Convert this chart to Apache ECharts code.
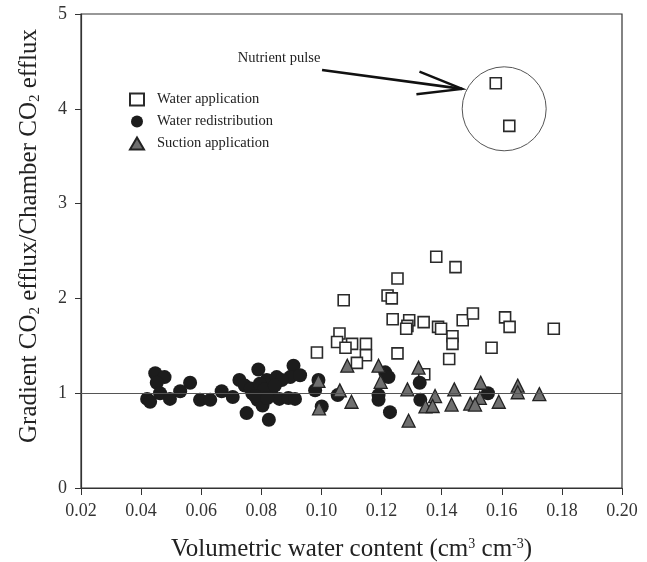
<!DOCTYPE html>
<html>
<head>
<meta charset="utf-8">
<script src="https://cdn.jsdelivr.net/npm/echarts@6/dist/echarts.min.js"></script>
<style>
  html, body { margin: 0; padding: 0; background: #fff; }
  #chart { width: 647px; height: 562px; }
</style>
</head>
<body>
<div id="chart"></div>
<script>
// x: volumetric water content, y: gradient / chamber efflux ratio
const waterApplication = [
  [0.1382, 2.44], [0.1446, 2.33], [0.1253, 2.21], [0.1074, 1.98], [0.1220, 2.03],
  [0.1234, 2.00], [0.1237, 1.78], [0.1292, 1.77], [0.1286, 1.71], [0.1282, 1.68],
  [0.1340, 1.75], [0.1388, 1.70], [0.1398, 1.68], [0.1470, 1.77], [0.1504, 1.84],
  [0.1611, 1.80], [0.1626, 1.70], [0.1773, 1.68], [0.1060, 1.63], [0.1052, 1.54],
  [0.1102, 1.52], [0.1080, 1.48], [0.1148, 1.52], [0.1148, 1.40], [0.0985, 1.43],
  [0.1118, 1.32], [0.1253, 1.42], [0.1436, 1.60], [0.1436, 1.52], [0.1425, 1.36],
  [0.1566, 1.48], [0.1342, 1.20], [0.1580, 4.27], [0.1625, 3.82]
];
const waterRedistribution = [
  [0.0447, 1.21], [0.0478, 1.17], [0.0452, 1.11], [0.0420, 0.94], [0.0430, 0.91],
  [0.0463, 1.00], [0.0496, 0.94], [0.0530, 1.02], [0.0563, 1.11], [0.0596, 0.93],
  [0.0630, 0.93], [0.0668, 1.02], [0.0705, 0.96], [0.0727, 1.14], [0.0745, 1.08],
  [0.0790, 1.25], [0.0770, 1.00], [0.0751, 0.79], [0.0787, 0.93], [0.0818, 1.14],
  [0.0851, 1.17], [0.0804, 0.87], [0.0825, 0.72], [0.0832, 1.00], [0.0860, 0.94],
  [0.0890, 0.95], [0.0907, 1.29], [0.0896, 1.17], [0.0929, 1.19], [0.0868, 1.14],
  [0.0912, 0.94], [0.0979, 1.03], [0.0990, 1.14], [0.1001, 0.86], [0.1054, 0.98],
  [0.1190, 0.98], [0.1190, 0.93], [0.1228, 0.80], [0.1212, 1.22], [0.1223, 1.17],
  [0.1327, 1.11], [0.1329, 0.93], [0.1554, 1.00], [0.0765, 1.05], [0.0795, 1.10],
  [0.0810, 1.04], [0.0845, 1.08], [0.0780, 0.97], [0.0820, 0.95]
];
const suctionApplication = [
  [0.1086, 1.29], [0.1190, 1.29], [0.1197, 1.12], [0.1323, 1.27], [0.0990, 1.13],
  [0.1061, 1.03], [0.1100, 0.91], [0.0992, 0.84], [0.1286, 1.04], [0.1378, 0.97],
  [0.1346, 0.86], [0.1370, 0.865], [0.1290, 0.71], [0.1442, 1.04], [0.1433, 0.88],
  [0.1530, 1.11], [0.1527, 0.95], [0.1495, 0.89], [0.1511, 0.88], [0.1590, 0.91],
  [0.1653, 1.08], [0.1653, 1.01], [0.1725, 0.99]
];
const xTicks = { min: 0.02, max: 0.20, step: 0.02 };
const yTicks = { min: 0, max: 5, step: 1 };
const referenceRatio = 1;
const pulseCircle = { center: [0.1608, 4.0], radius: 42 };
const arrowFrom = [0.1002, 4.41];
const arrowTo = [0.1468, 4.21];
const pulseLabelAt = [0.0859, 4.53];

const serif = 'Liberation Serif';
const ink = '#222';

const chart = echarts.init(document.getElementById('chart'));

const option = {
  animation: false,
  textStyle: { fontFamily: serif },
  grid: {
    left: 81, right: 25, top: 14, bottom: 74,
    outerBoundsMode: 'none',
    show: true, borderColor: '#333', borderWidth: 1.2
  },
  legend: {
    orient: 'vertical',
    left: 124, top: 87,
    itemWidth: 14, itemHeight: 12, itemGap: 7,
    data: ['Water application', 'Water redistribution', 'Suction application'],
    textStyle: { fontFamily: serif, fontSize: 14.5, color: ink, padding: [0, 0, 0, 8] }
  },
  xAxis: {
    type: 'value',
    min: xTicks.min, max: xTicks.max, interval: xTicks.step,
    axisLine: { lineStyle: { color: '#333', width: 1.2 } },
    axisTick: { show: true, length: 7, lineStyle: { color: '#333' } },
    splitLine: { show: false },
    axisLabel: {
      margin: 14, fontSize: 18, color: '#333', fontFamily: serif,
      formatter: v => v.toFixed(2)
    },
    name: 'Volumetric water content (cm{sup|3} cm{sup|-3})',
    nameLocation: 'middle', nameGap: 49,
    nameTextStyle: {
      fontFamily: serif, fontSize: 25, color: ink,
      rich: {
        sup: { fontSize: 14, verticalAlign: 'top', lineHeight: 14, fontFamily: serif, color: ink }
      }
    }
  },
  yAxis: {
    type: 'value',
    min: yTicks.min, max: yTicks.max, interval: yTicks.step,
    axisLine: { show: true, lineStyle: { color: '#333', width: 1.2 } },
    axisTick: { show: true, length: 6, lineStyle: { color: '#333' } },
    splitLine: { show: false },
    axisLabel: { margin: 14, fontSize: 18, color: '#333', fontFamily: serif },
    name: 'Gradient CO{sub|2} efflux/Chamber CO{sub|2} efflux',
    nameLocation: 'middle', nameGap: 38,
    nameTextStyle: {
      fontFamily: serif, fontSize: 25, color: ink, lineHeight: 27,
      padding: [0, 0, 0, 30],
      rich: {
        sub: { fontSize: 15, verticalAlign: 'bottom', lineHeight: 14, fontFamily: serif, color: ink }
      }
    }
  },
  series: [
    {
      name: 'Water application',
      type: 'scatter',
      symbol: 'rect',
      symbolSize: 11,
      itemStyle: { color: '#fff', borderColor: '#2a2a2a', borderWidth: 1.6, opacity: 1 },
      data: waterApplication,
      z: 2,
      markLine: {
        silent: true,
        symbol: 'none',
        label: { show: false },
        lineStyle: { color: '#555', width: 1, type: 'solid' },
        data: [{ yAxis: referenceRatio }]
      }
    },
    {
      name: 'Water redistribution',
      type: 'scatter',
      symbol: 'circle',
      symbolSize: 14,
      itemStyle: { color: '#1c1c1c', opacity: 1 },
      data: waterRedistribution,
      z: 3
    },
    {
      name: 'Suction application',
      type: 'scatter',
      symbol: 'triangle',
      symbolSize: 13,
      itemStyle: { color: '#6f6f6f', borderColor: '#222', borderWidth: 1.3, opacity: 1 },
      data: suctionApplication,
      z: 4
    }
  ]
};

chart.setOption(option);

// annotation: circle around the nutrient pulse points, arrow and label
function drawAnnotation() {
  const c = chart.convertToPixel('grid', pulseCircle.center);
  const a = chart.convertToPixel('grid', arrowFrom);
  const b = chart.convertToPixel('grid', arrowTo);
  const t = chart.convertToPixel('grid', pulseLabelAt);
  const ang = Math.atan2(b[1] - a[1], b[0] - a[0]);
  const headLen = 46, spread = 0.25;
  const h1 = [b[0] - headLen * Math.cos(ang - spread), b[1] - headLen * Math.sin(ang - spread)];
  const h2 = [b[0] - headLen * Math.cos(ang + spread), b[1] - headLen * Math.sin(ang + spread)];
  chart.setOption({
    graphic: [
      {
        type: 'circle',
        shape: { cx: c[0], cy: c[1], r: pulseCircle.radius },
        style: { fill: 'none', stroke: '#555', lineWidth: 1 },
        z: 1
      },
      {
        type: 'line',
        shape: { x1: a[0], y1: a[1], x2: b[0], y2: b[1] },
        style: { stroke: '#111', lineWidth: 2.6 }
      },
      {
        type: 'polyline',
        shape: { points: [h1, b, h2] },
        style: { stroke: '#111', lineWidth: 2.4, fill: 'none' }
      },
      {
        type: 'text',
        x: t[0], y: t[1],
        style: {
          text: 'Nutrient pulse',
          fontFamily: serif, fontSize: 14.5, fill: ink,
          align: 'center', verticalAlign: 'middle'
        }
      }
    ]
  });
}
drawAnnotation();
</script>
</body>
</html>
